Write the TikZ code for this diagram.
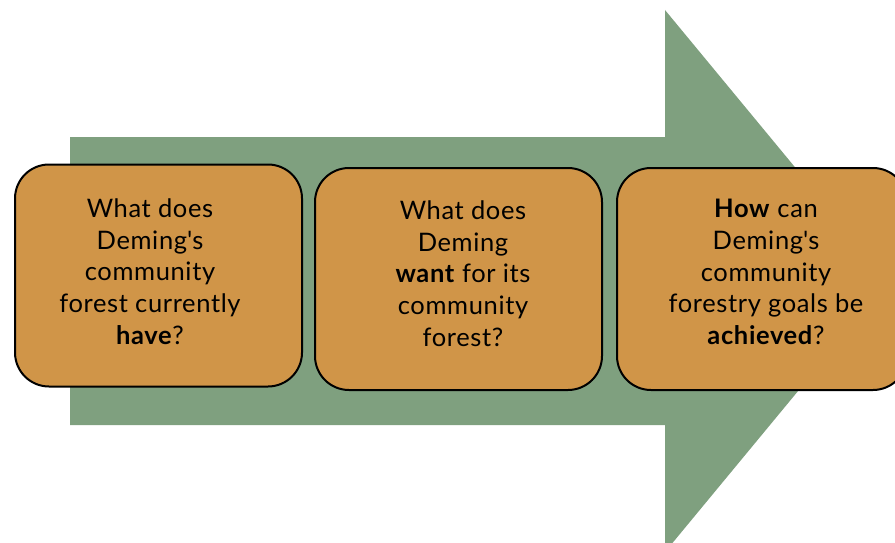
\documentclass[tikz,border=0pt]{standalone}
\usepackage{fontspec}
\setmainfont{Lato}[LetterSpace=2.5]
\definecolor{arrowgreen}{RGB}{127,160,127}
\definecolor{boxorange}{RGB}{208,149,72}
\newcommand{\apos}{\textquotesingle}
\tikzset{
  qbox/.style={draw=black, line width=2pt, fill=boxorange, rounded corners=34pt,
    minimum width=#1, minimum height=222pt, inner sep=0pt},
  qtext/.style={align=center, font=\fontsize{25.5}{31.7}\selectfont, text=black, inner sep=0pt}
}
\begin{document}
\begin{tikzpicture}[x=1pt, y=-1pt]
  \clip (0,0) rectangle (895,543);
  \useasboundingbox (0,0) rectangle (895,543);
  % big process arrow
  \fill[arrowgreen] (70,137) -- (665,137) -- (665,10) -- (889,281)
    -- (665,552) -- (665,425) -- (70,425) -- cycle;
  % question boxes
  \node[qbox=287pt] (b1) at (158.5,275.5) {};
  \node[qbox=287pt] (b2) at (458.5,279) {};
  \node[qbox=290pt] (b3) at (762,279) {};
  \node[qtext] (t1) at (150,271.5) {What does\\Deming\apos s\\community\\forest currently\\\textbf{have}?};
  \node[qtext] (t2) at (463,273.5) {What does\\Deming\\\textbf{want} for its\\community\\forest?};
  \node[qtext] (t3) at (766,272) {\textbf{How} can\\Deming\apos s\\community\\forestry goals be\\\textbf{achieved}?};
\end{tikzpicture}
\end{document}
